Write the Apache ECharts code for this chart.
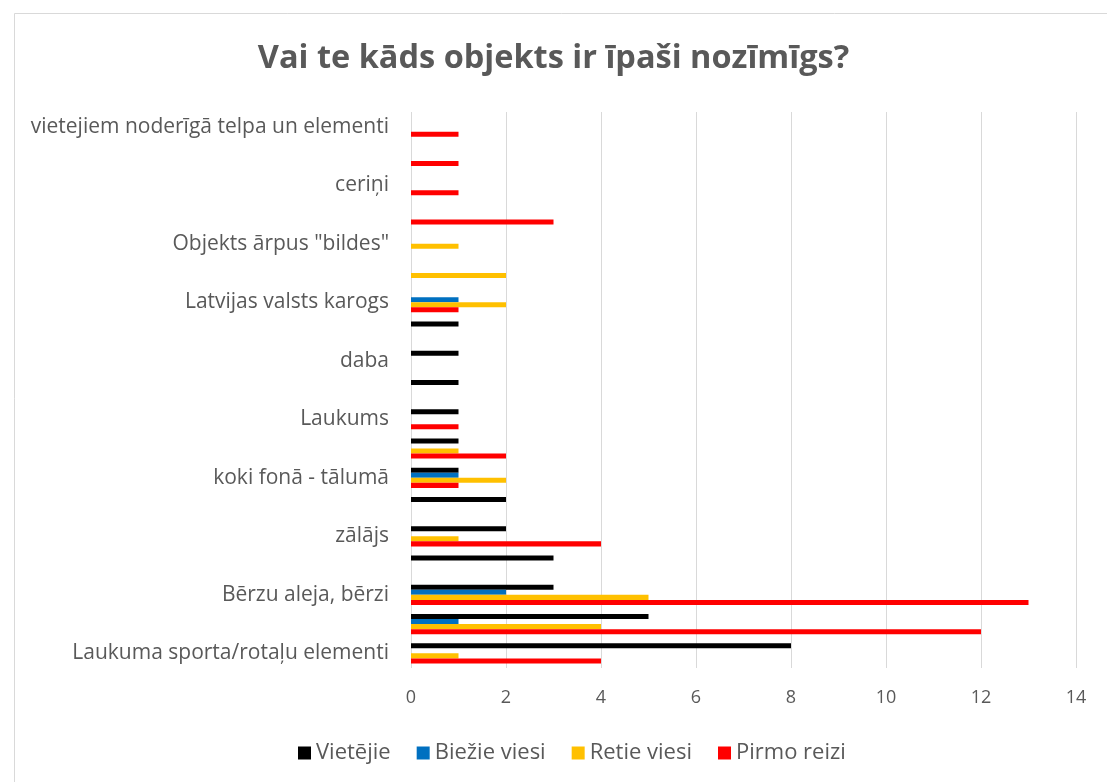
<!DOCTYPE html>
<html>
<head>
<meta charset="utf-8">
<script src="https://cdn.jsdelivr.net/npm/echarts@6/dist/echarts.min.js"></script>
<style>
  html, body { margin: 0; padding: 0; background: #fff; }
  #chart { width: 1107px; height: 782px; }
</style>
</head>
<body>
<div id="chart"></div>
<script>
// categories, bottom to top; only every other one is labelled in the original
const categories = [
  'Laukuma sporta/rotaļu elementi', '',
  'Bērzu aleja, bērzi', '',
  'zālājs', '',
  'koki fonā - tālumā', '',
  'Laukums', '',
  'daba', '',
  'Latvijas valsts karogs', '',
  'Objekts ārpus "bildes"', '',
  'ceriņi', '',
  'vietejiem noderīgā telpa un elementi'
];

const seriesNames = ['Vietējie', 'Biežie viesi', 'Retie viesi', 'Pirmo reizi'];
const seriesColors = ['#000000', '#0070C0', '#FFC000', '#FF0000'];

const vietejie    = [8, 5, 3, 3, 2, 2, 1, 1, 1, 1, 1, 1, 0, 0, 0, 0, 0, 0, 0];
const biezieViesi = [0, 1, 2, 0, 0, 0, 1, 0, 0, 0, 0, 0, 1, 0, 0, 0, 0, 0, 0];
const retieViesi  = [1, 4, 5, 0, 1, 0, 2, 1, 0, 0, 0, 0, 2, 2, 1, 0, 0, 0, 0];
const pirmoReizi  = [4, 12, 13, 0, 4, 0, 1, 2, 1, 0, 0, 0, 1, 0, 0, 3, 1, 1, 1];

const xMin = 0, xMax = 14, xStep = 2;

const fontFamily = '"Open Sans", "Noto Sans", sans-serif';
const textColor = '#595959';

const chart = echarts.init(document.getElementById('chart'));

const allValues = [vietejie, biezieViesi, retieViesi, pirmoReizi];

chart.setOption({
  backgroundColor: '#fff',
  textStyle: { fontFamily },
  title: {
    text: 'Vai te kāds objekts ir īpaši nozīmīgs?',
    left: 'center',
    top: 37,
    textStyle: { fontSize: 32.5, fontWeight: 'bold', color: textColor, fontFamily }
  },
  graphic: [{
    type: 'rect',
    shape: { x: 14.5, y: 13.5, width: 1200, height: 900 },
    style: { fill: 'none', stroke: '#d9d9d9', lineWidth: 1 },
    silent: true
  }],
  legend: {
    bottom: 13,
    left: 293,
    itemWidth: 13,
    itemHeight: 13,
    itemGap: 26,
    icon: 'rect',
    textStyle: { fontSize: 22, color: textColor, fontFamily },
    data: seriesNames
  },
  grid: { left: 411, right: 31, top: 112, bottom: 114 },
  xAxis: {
    type: 'value',
    min: xMin,
    max: xMax,
    interval: xStep,
    axisLine: { show: false },
    axisTick: { show: false },
    axisLabel: { color: textColor, fontSize: 18, margin: 21, fontFamily },
    splitLine: { lineStyle: { color: '#d9d9d9', width: 1 } }
  },
  yAxis: {
    type: 'category',
    data: categories,
    axisLine: { show: false },
    axisTick: { show: false },
    axisLabel: { color: textColor, fontSize: 21, margin: 22, interval: 1, fontFamily, padding: [4, 0, 0, 0] },
    splitLine: { show: false }
  },
  series: seriesNames.map((name, i) => ({
    name,
    type: 'bar',
    data: allValues[i],
    barGap: '0%',
    barCategoryGap: '31%',
    itemStyle: { color: seriesColors[i] }
  }))
});
</script>
</body>
</html>
